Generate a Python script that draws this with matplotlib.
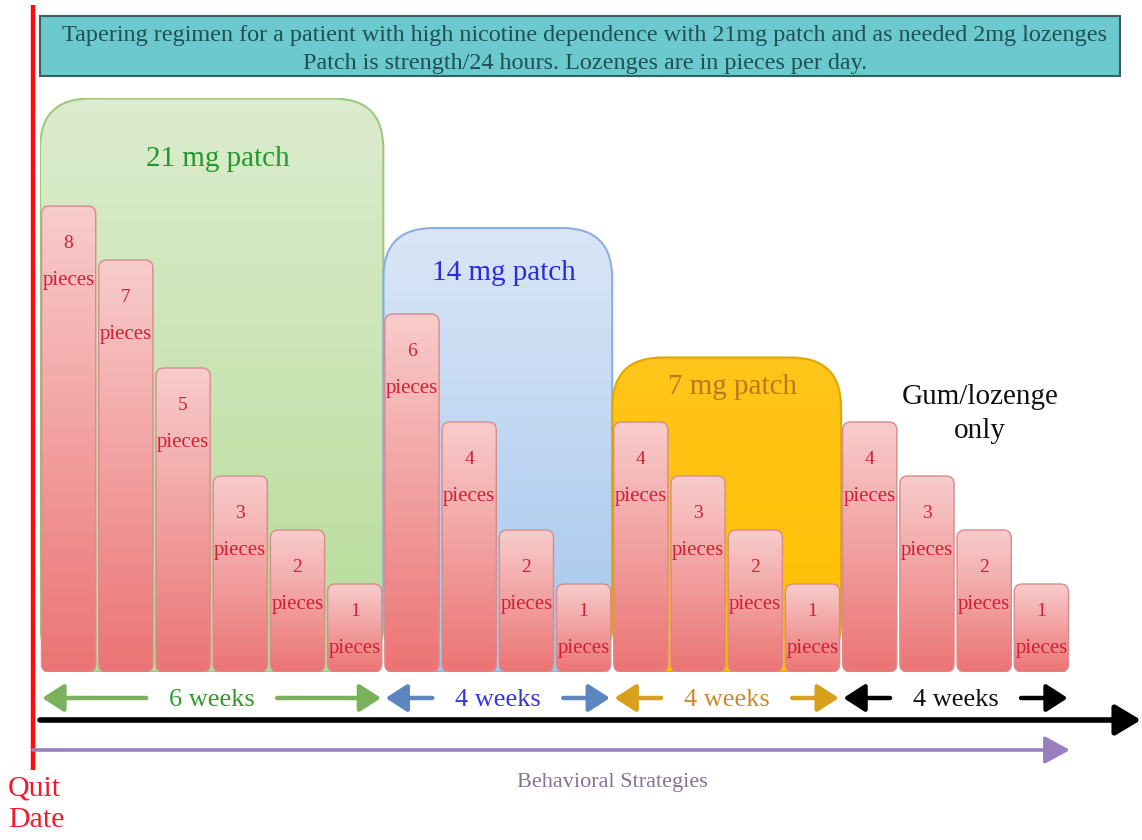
import numpy as np
import matplotlib.pyplot as plt
from matplotlib.patches import FancyBboxPatch, Rectangle
from matplotlib.transforms import blended_transform_factory
from matplotlib.colors import LinearSegmentedColormap

plt.rcParams['font.family'] = ['Liberation Serif', 'DejaVu Serif']

# regimen data
phase_labels = ["21 mg patch", "14 mg patch", "7 mg patch", "Gum/lozenge\nonly"]
patch_mg = [21, 14, 7]
phase_weeks = [6, 4, 4, 4]
lozenge_pieces = [[8, 7, 5, 3, 2, 1], [6, 4, 2, 1], [4, 3, 2, 1], [4, 3, 2, 1]]
week_labels = ["6 weeks", "4 weeks", "4 weeks", "4 weeks"]
title_lines = ["Tapering regimen for a patient with high nicotine dependence with 21mg patch and as needed 2mg lozenges",
               "Patch is strength/24 hours. Lozenges are in pieces per day."]

# colours per phase
phase_text = ['#1f9a2a', '#2b2bdb', '#b8791c', '#111111']
arrow_cols = ['#79b25a', '#5b86bf', '#d9a01b', '#000000']
week_text = ['#2a9d2a', '#3535e0', '#cc8a2a', '#111111']
box_top = ['#dcecce', '#dae6f6', '#ffc51a']
box_bot = ['#b6dc98', '#a3c6ee', '#ffbf00']
box_edge = ['#9cc97e', '#8eaee0', '#e0a800']

W, H = 1142, 840
fig = plt.figure(figsize=(W / 100, H / 100), dpi=100)

# canvas in pixel units, y pointing down
canvas = fig.add_axes([0, 0, 1, 1], zorder=0)
canvas.set_xlim(0, W)
canvas.set_ylim(H, 0)
canvas.axis('off')

left_px, right_px, base_px, top_px = 40, 1070, 672, 98
PX_PIECE, FLOOR_PX = 54, 34       # lozenge scale
PX_MG, MG_FLOOR_PX = 18.5, 185    # patch scale
n_weeks = sum(phase_weeks)
px_week = (right_px - left_px) / n_weeks
rect = [left_px / W, (H - base_px) / H, (right_px - left_px) / W, (base_px - top_px) / H]
plot_h = base_px - top_px

ax_p = fig.add_axes(rect, zorder=1)
ax = fig.add_axes(rect, zorder=2)
for a in (ax, ax_p):
    a.axis('off')
    a.patch.set_visible(False)

floor = FLOOR_PX / PX_PIECE
mg_floor = MG_FLOOR_PX / PX_MG
ylim_b = (-floor, (plot_h - FLOOR_PX) / PX_PIECE)
ylim_p = (-mg_floor, (plot_h - MG_FLOOR_PX) / PX_MG)


def gradient_patch(axis, x0, y0, w, h, top, bot, edge, radius_px, px_y, lw, z):
    r = radius_px / px_week
    patch = FancyBboxPatch((x0, y0), w, h,
                           boxstyle=f"round,pad=0,rounding_size={r}",
                           mutation_aspect=px_week / px_y,
                           facecolor='none', edgecolor=edge, lw=lw, zorder=z + 1)
    axis.add_patch(patch)
    cmap = LinearSegmentedColormap.from_list('g', [bot, top])
    im = axis.imshow(np.linspace(0, 1, 256).reshape(-1, 1), extent=(x0, x0 + w, y0, y0 + h),
                     origin='lower', cmap=cmap, aspect='auto', zorder=z, interpolation='bilinear')
    im.set_clip_path(patch)
    return patch


starts = np.concatenate([[0], np.cumsum(phase_weeks)[:-1]])

# patch strength boxes
label_drop = [60, 45, 30]
for i, mg in enumerate(patch_mg):
    x0 = starts[i]
    gradient_patch(ax_p, x0, -mg_floor, phase_weeks[i], mg + mg_floor,
                   box_top[i], box_bot[i], box_edge[i], 50, PX_MG, 1.5, 1)
    ax_p.annotate(phase_labels[i], (x0 + phase_weeks[i] / 2 + 0.1, mg),
                  xytext=(0, -label_drop[i]), textcoords='offset pixels',
                  ha='center', va='center', fontsize=21, color=phase_text[i])

# lozenge bars
gap = 1.5 / px_week
for i, pieces in enumerate(lozenge_pieces):
    for j, v in enumerate(pieces):
        xb = starts[i] + j
        gradient_patch(ax, xb + gap, -floor, 1 - 2 * gap, v + floor,
                       '#f8cccc', '#ec7474', '#d98a8a', 8, PX_PIECE, 1.0, 3)
        drop = 28 if v == 1 else 38
        ax.annotate(str(v), (xb + 0.5, v), xytext=(0, -drop), textcoords='offset pixels',
                    ha='center', va='center', fontsize=14, color='#d21f33', zorder=6)
        ax.annotate('pieces', (xb + 0.5, v), xytext=(0, -drop - 37), textcoords='offset pixels',
                    ha='center', va='center', fontsize=15, color='#d21f33', zorder=6)

ax.set_xlim(0, n_weeks)
ax.set_ylim(*ylim_b)
ax_p.set_xlim(0, n_weeks)
ax_p.set_ylim(*ylim_p)

# x in weeks, y in canvas pixels
wk = blended_transform_factory(ax.transData, canvas.transData)

canvas.text(980, 414, phase_labels[3], ha='center', va='center', fontsize=21,
            color=phase_text[3], linespacing=1.35)

# title box
canvas.add_patch(Rectangle((40, 16), 1080, 60, facecolor='#6ccacf', edgecolor='#3d5d60', lw=1.5))
canvas.text(585, 35, title_lines[0], ha='center', va='center', fontsize=17.4, color='#1f4f57')
canvas.text(585, 63, title_lines[1], ha='center', va='center', fontsize=17.4, color='#1f4f57')

# quit date line
canvas.plot([33, 33], [5, 770], color='#ff0d0d', lw=3.2, solid_capstyle='butt')
canvas.text(8, 804, "Quit\nDate", ha='left', va='center', fontsize=21.5, color='#ee1c2a', linespacing=1.3)

# phase duration arrows
text_w, gap_px = 87 / px_week, 22 / px_week
for i, n in enumerate(phase_weeks):
    a, b = starts[i], starts[i] + n
    arm = (n - text_w - 2 * gap_px) / 2
    props = dict(arrowstyle='-|>,head_length=0.65,head_width=0.42', color=arrow_cols[i],
                 lw=3.2, shrinkA=0, shrinkB=0, mutation_scale=20)
    canvas.annotate('', xy=(a + 0.04, 698), xytext=(a + arm, 698), xycoords=wk, textcoords=wk,
                    arrowprops=props)
    canvas.annotate('', xy=(b - 0.04, 698), xytext=(b - arm, 698), xycoords=wk, textcoords=wk,
                    arrowprops=props)
    canvas.text(a + n / 2, 700, week_labels[i], transform=wk, ha='center', va='center',
                fontsize=19, color=week_text[i])

# timeline
canvas.annotate('', xy=(1141, 720), xytext=(left_px, 720),
                arrowprops=dict(arrowstyle='-|>,head_length=0.7,head_width=0.42', color='black',
                                lw=4, shrinkA=0, shrinkB=0, mutation_scale=22))
canvas.annotate('', xy=(n_weeks, 750), xytext=(33, 750), xycoords=wk, textcoords=canvas.transData,
                arrowprops=dict(arrowstyle='-|>,head_length=0.7,head_width=0.38', color='#9a7fbf',
                                lw=2.6, shrinkA=0, shrinkB=0, mutation_scale=22))
canvas.text(612, 783, "Behavioral Strategies", ha='center', va='center', fontsize=16, color='#85719a')

fig.savefig('out.png', dpi=100)
